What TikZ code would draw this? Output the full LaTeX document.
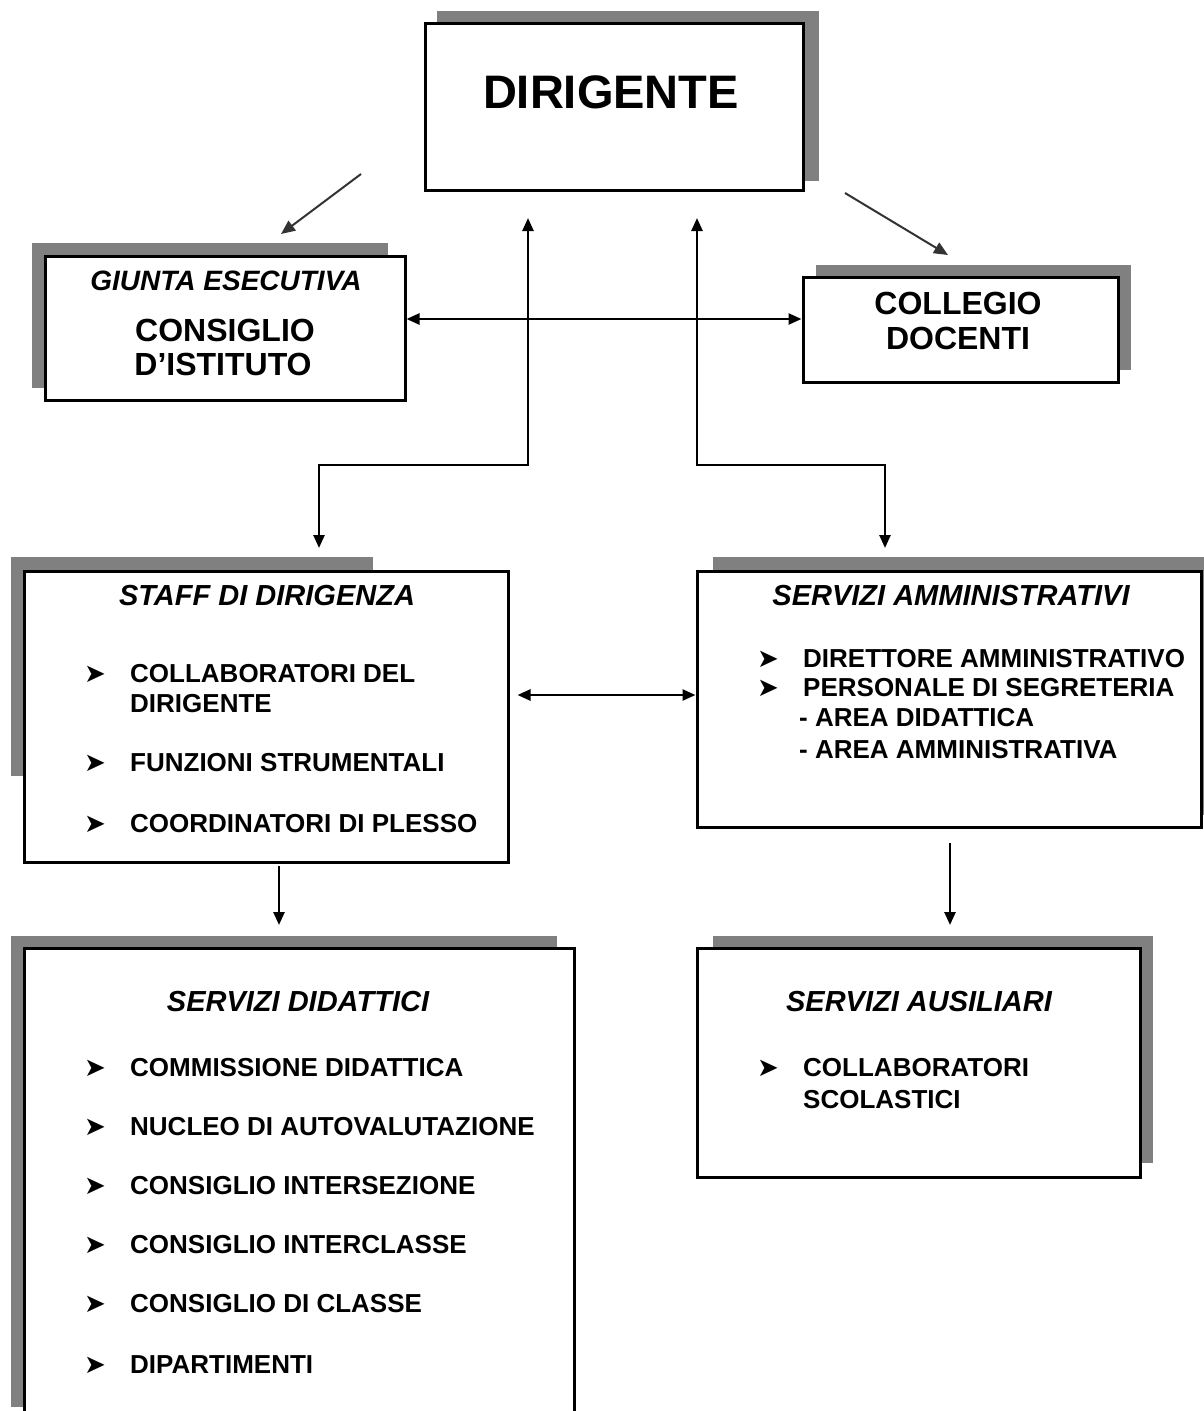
\documentclass[tikz,border=0pt]{standalone}
\usepackage{fontspec}
\setmainfont{Liberation Sans}
\newfontfamily\dingfont{DejaVu Sans}
\usetikzlibrary{arrows.meta,positioning}

\tikzset{
  box/.style={draw,line width=3pt,fill=white,inner sep=0pt},
  boxshade/.style={fill=black!50,draw=none},
  head/.style={font=\fontsize{29}{32}\selectfont\bfseries\itshape,inner sep=0pt,anchor=base},
  title/.style={font=\fontsize{32}{35}\selectfont\bfseries,inner sep=0pt,anchor=base},
  item/.style={font=\fontsize{26}{30}\selectfont\bfseries,inner sep=0pt,anchor=base west},
  bul/.style={font=\fontsize{26}{26}\selectfont\dingfont,inner sep=0pt,anchor=base west},
  link/.style={line width=2.5pt,-{Triangle[length=13pt,width=11pt]}},
  twoway/.style={line width=2.5pt,{Triangle[length=13pt,width=11pt]}-{Triangle[length=13pt,width=11pt]}},
  diag/.style={line width=2pt,black!80,-{Triangle[length=14pt,width=12pt]}},
}

\begin{document}
\begin{tikzpicture}[x=1pt,y=-1pt]
\clip (0,0) rectangle (1204,1411);
\fill[white] (0,0) rectangle (1204,1411);

% grey shadows behind the boxes
\fill[boxshade] (437,11) rectangle (819,181);
\fill[boxshade] (32,243) rectangle (388,388);
\fill[boxshade] (816,265) rectangle (1131,370);
\fill[boxshade] (11,557) rectangle (373,776);
\fill[boxshade] (713,557) rectangle (1215,815);
\fill[boxshade] (11,936) rectangle (557,1407);
\fill[boxshade] (713,936) rectangle (1153,1163);

% boxes
\node[box,minimum width=378pt,minimum height=167pt] (dirigente) at (614,106.5) {};
\node[box,minimum width=360pt,minimum height=144pt] (giunta) at (225,328) {};
\node[box,minimum width=315pt,minimum height=105pt] (collegio) at (960.5,329.5) {};
\node[box,minimum width=484pt,minimum height=291pt] (staff) at (266,716.5) {};
\node[box,minimum width=504pt,minimum height=256pt] (amministr) at (949,699) {};
\node[box,minimum width=550pt,minimum height=482pt] (didattici) at (299,1189) {};
\node[box,minimum width=443pt,minimum height=229pt] (ausiliari) at (918.5,1062.5) {};

% texts
\node[font=\fontsize{47}{50}\selectfont\bfseries,inner sep=0pt,anchor=base] (dir-t) at (611,108) {DIRIGENTE};
\node[head,font=\fontsize{28}{30}\selectfont\bfseries\itshape] (giunta-h) at (226,290) {GIUNTA ESECUTIVA};
\node[title] (giunta-t1) at (225,341) {CONSIGLIO};
\node[title] (giunta-t2) at (223,375) {D'ISTITUTO};
\node[title] (coll-t1) at (958,314) {COLLEGIO};
\node[title] (coll-t2) at (958,349) {DOCENTI};

\node[head] (staff-h) at (267,605) {STAFF DI DIRIGENZA};
\foreach \yy/\txt [count=\i] in {682/COLLABORATORI DEL,771/FUNZIONI STRUMENTALI,832/COORDINATORI DI PLESSO}{
  \node[bul] (staff-b\i) at (84,\yy) {➤};
  \node[item] (staff-i\i) at (130,\yy) {\txt};
}
\node[item] (staff-i1b) at (130,712) {DIRIGENTE};

\node[head] (amm-h) at (951,605) {SERVIZI AMMINISTRATIVI};
\node[bul] (amm-b1) at (757,667) {➤};
\node[item] (amm-i1) at (803,667) {DIRETTORE AMMINISTRATIVO};
\node[bul] (amm-b2) at (757,696) {➤};
\node[item] (amm-i2) at (803,696) {PERSONALE DI SEGRETERIA};
\node[item] (amm-i3) at (799,726) {- AREA DIDATTICA};
\node[item] (amm-i4) at (799,758) {- AREA AMMINISTRATIVA};

\node[head] (did-h) at (298,1011) {SERVIZI DIDATTICI};
\foreach \yy/\txt [count=\i] in {1076/COMMISSIONE DIDATTICA,1135/NUCLEO DI AUTOVALUTAZIONE,
    1194/CONSIGLIO INTERSEZIONE,1253/CONSIGLIO INTERCLASSE,1312/CONSIGLIO DI CLASSE,1373/DIPARTIMENTI}{
  \node[bul] (did-b\i) at (84,\yy) {➤};
  \node[item] (did-i\i) at (130,\yy) {\txt};
}

\node[head] (aus-h) at (919,1011) {SERVIZI AUSILIARI};
\node[bul] (aus-b1) at (757,1076) {➤};
\node[item] (aus-i1) at (803,1076) {COLLABORATORI};
\node[item] (aus-i2) at (803,1108) {SCOLASTICI};

% free ends of the connectors
\coordinate (dg-from) at (361,174);
\coordinate (dg-to) at (281,234);
\coordinate (dc-from) at (845,193);
\coordinate (dc-to) at (948,255);
\coordinate (up-l) at (528,218);
\coordinate (up-r) at (697,218);
\coordinate (join-l) at (528,465);
\coordinate (join-r) at (697,465);
\coordinate (staff-top) at (319,548);
\coordinate (amm-top) at (885,548);
\coordinate (staff-bot) at (279,866);
\coordinate (did-top) at (279,925);
\coordinate (amm-bot) at (950,843);
\coordinate (aus-top) at (950,925);

% connectors
\draw[diag] (dg-from) -- (dg-to);
\draw[diag] (dc-from) -- (dc-to);
\draw[twoway] (giunta.east |- 0,319) -- (collegio.west |- 0,319);
\draw[twoway] (up-l) -- (join-l) -| (staff-top);
\draw[twoway] (up-r) -- (join-r) -| (amm-top);
\draw[twoway] (staff.east |- 0,695) ++(8,0) -- (amministr.west |- 0,695);
\draw[link] (staff-bot) -- (did-top);
\draw[link] (amm-bot) -- (aus-top);
\end{tikzpicture}
\end{document}
